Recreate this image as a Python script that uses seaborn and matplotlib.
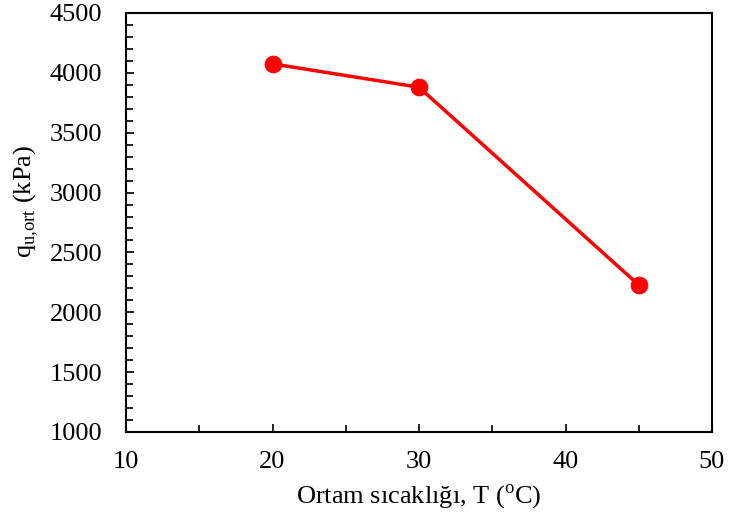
import matplotlib
matplotlib.use("Agg")
import matplotlib.pyplot as plt
import seaborn as sns
import pandas as pd
from matplotlib.ticker import MultipleLocator

temperature = [20, 30, 45]
qu_ort = [4075, 3880, 2228]

sns.set_style("white")
plt.rcParams['font.family'] = ['Liberation Serif', 'DejaVu Serif']
plt.rcParams['mathtext.fontset'] = 'custom'
plt.rcParams['mathtext.rm'] = 'Liberation Serif'
plt.rcParams['text.color'] = 'black'
plt.rcParams['axes.labelcolor'] = 'black'
plt.rcParams['xtick.color'] = 'black'
plt.rcParams['ytick.color'] = 'black'

df = pd.DataFrame({"T": temperature, "q": qu_ort})

fig = plt.figure(figsize=(7.3, 5.22), dpi=100)
ax = fig.add_axes([126/730, 1-432/522, (712-126)/730, (432-13)/522])
sns.lineplot(data=df, x="T", y="q", ax=ax, color="#ff0000", linewidth=2.5,
             marker="o", markersize=12, markeredgecolor="#ff0000", markerfacecolor="#ff0000")

ax.set_xlim(10, 50)
ax.set_ylim(1000, 4500)
ax.xaxis.set_major_locator(MultipleLocator(10))
ax.xaxis.set_minor_locator(MultipleLocator(5))
ax.yaxis.set_major_locator(MultipleLocator(500))
ax.yaxis.set_minor_locator(MultipleLocator(100))
ax.tick_params(axis="both", which="both", direction="in", labelsize=19,
               bottom=True, left=True, top=False, right=False)
ax.tick_params(axis="x", which="major", pad=14)
ax.tick_params(axis="y", which="major", pad=17)
ax.tick_params(axis="both", which="major", length=6, width=1.2)
ax.tick_params(axis="both", which="minor", length=5, width=1.2)
for s in ax.spines.values():
    s.set_color("black")
    s.set_linewidth(1.5)

ax.set_xlabel("Ortam sıcaklığı, T ($^{\\mathrm{o}}$C)", fontsize=19, labelpad=6)
ax.set_ylabel("q$_{\\mathrm{u{,}ort}}$ (kPa)", fontsize=19)
ax.yaxis.set_label_coords(-0.145, 0.55)

fig.savefig("out.png", dpi=100)
